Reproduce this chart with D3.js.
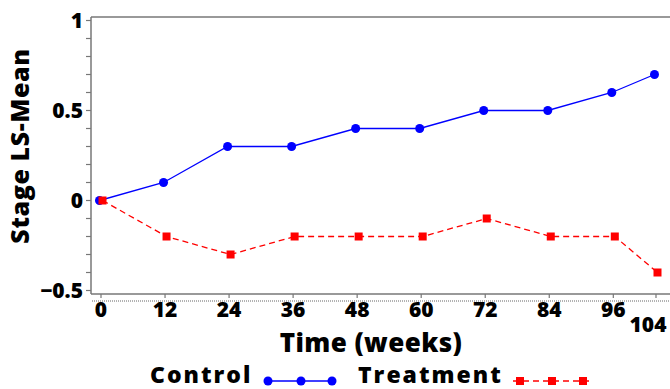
<!DOCTYPE html>
<html>
<head>
<meta charset="utf-8">
<script src="https://cdn.jsdelivr.net/npm/d3@7"></script>
<style>
  body { margin: 0; background: #fff; }
  text { font-family: "Open Sans", sans-serif; font-weight: 800; fill: #000; }
</style>
</head>
<body>
<svg width="670" height="389"></svg>
<script>
const weeks = [0, 12, 24, 36, 48, 60, 72, 84, 96, 104]
const control = [0, 0.1, 0.3, 0.3, 0.4, 0.4, 0.5, 0.5, 0.6, 0.7]
const treatment = [0, -0.2, -0.3, -0.2, -0.2, -0.2, -0.1, -0.2, -0.2, -0.4]
const yTicks = [-0.5, 0, 0.5, 1]
const yMinor = d3.range(-5, 11).map(d => d / 10)

const svg = d3.select("svg")

const x = d3.scaleLinear().domain([0, 104]).range([101, 656])
const y = d3.scaleLinear().domain([-0.5, 1]).range([290.5, 20.5])

const axisX = 91, frameTop = 17, frameBottom = 294

// frame
svg.append("line")
  .attr("x1", axisX).attr("x2", 670)
  .attr("y1", frameTop).attr("y2", frameTop)
  .attr("stroke", "#777").attr("stroke-width", 1.5)
svg.append("line")
  .attr("x1", axisX).attr("x2", 670)
  .attr("y1", frameBottom).attr("y2", frameBottom)
  .attr("stroke", "#777").attr("stroke-width", 1.5)
svg.append("line")
  .attr("x1", axisX).attr("x2", axisX)
  .attr("y1", frameTop).attr("y2", frameBottom)
  .attr("stroke", "#777").attr("stroke-width", 1.5)
svg.append("line")
  .attr("x1", 92).attr("x2", 670)
  .attr("y1", 301).attr("y2", 301)
  .attr("stroke", "#666").attr("stroke-width", 1)
  .attr("stroke-dasharray", "1,1")

// y ticks
svg.selectAll(".ytick")
  .data(yMinor)
  .enter()
  .append("line")
  .attr("x1", axisX - 5).attr("x2", axisX)
  .attr("y1", d => y(d)).attr("y2", d => y(d))
  .attr("stroke", "#777").attr("stroke-width", 1.2)

svg.selectAll(".ylab")
  .data(yTicks)
  .enter()
  .append("text")
  .attr("x", 83)
  .attr("y", d => y(d) + 7.5)
  .attr("text-anchor", "end")
  .attr("font-size", 21)
  .text(d => d3.format("")(d))

// x ticks
svg.selectAll(".xtick")
  .data(weeks)
  .enter()
  .append("line")
  .attr("x1", d => x(d)).attr("x2", d => x(d))
  .attr("y1", frameBottom).attr("y2", frameBottom + 4)
  .attr("stroke", "#777").attr("stroke-width", 1.2)

svg.selectAll(".xlab")
  .data(weeks)
  .enter()
  .append("text")
  .attr("x", d => d == 104 ? x(d) - 8 : x(d))
  .attr("y", d => d == 104 ? 332 : 317)
  .attr("text-anchor", "middle")
  .attr("font-size", 21)
  .text(d => d)

// titles
svg.append("text")
  .attr("x", 371).attr("y", 352)
  .attr("text-anchor", "middle")
  .attr("font-size", 26)
  .attr("letter-spacing", 0.4)
  .text("Time (weeks)")

svg.append("text")
  .attr("transform", "translate(29,146) rotate(-90)")
  .attr("text-anchor", "middle")
  .attr("font-size", 25)
  .attr("letter-spacing", 0.6)
  .text("Stage LS-Mean")

// series
const lineFn = (vals, dx) => d3.line()
  .x((d, i) => x(weeks[i]) + dx)
  .y(d => y(d))(vals)

svg.append("path")
  .attr("d", lineFn(control, -1.5))
  .attr("fill", "none")
  .attr("stroke", "#0000ff")
  .attr("stroke-width", 1.3)

svg.selectAll(".cdot")
  .data(control)
  .enter()
  .append("circle")
  .attr("cx", (d, i) => x(weeks[i]) - 1.5)
  .attr("cy", d => y(d))
  .attr("r", 4.5)
  .attr("fill", "#0000ff")

svg.append("path")
  .attr("d", lineFn(treatment, 1.5))
  .attr("fill", "none")
  .attr("stroke", "#ff0000")
  .attr("stroke-width", 1.3)
  .attr("stroke-dasharray", "6,4")

svg.selectAll(".tsq")
  .data(treatment)
  .enter()
  .append("rect")
  .attr("x", (d, i) => x(weeks[i]) + 1.5 - 4)
  .attr("y", d => y(d) - 4)
  .attr("width", 8)
  .attr("height", 8)
  .attr("fill", "#ff0000")

// legend
const leg = svg.append("g")
leg.append("text")
  .attr("x", 150).attr("y", 383)
  .attr("font-size", 23)
  .attr("letter-spacing", 2)
  .text("Control")
leg.append("line")
  .attr("x1", 264).attr("x2", 336)
  .attr("y1", 381).attr("y2", 381)
  .attr("stroke", "#0000ff").attr("stroke-width", 1.3)
leg.selectAll(".lc")
  .data([268, 301, 332])
  .enter()
  .append("circle")
  .attr("cx", d => d).attr("cy", 381).attr("r", 4.5)
  .attr("fill", "#0000ff")

leg.append("text")
  .attr("x", 358).attr("y", 383)
  .attr("font-size", 23)
  .attr("letter-spacing", 2)
  .text("Treatment")
leg.append("line")
  .attr("x1", 513).attr("x2", 589)
  .attr("y1", 381).attr("y2", 381)
  .attr("stroke", "#ff0000").attr("stroke-width", 1.3)
  .attr("stroke-dasharray", "6,4")
leg.selectAll(".lt")
  .data([520, 552, 583])
  .enter()
  .append("rect")
  .attr("x", d => d - 4).attr("y", 377)
  .attr("width", 8).attr("height", 8)
  .attr("fill", "#ff0000")
</script>
</body>
</html>
